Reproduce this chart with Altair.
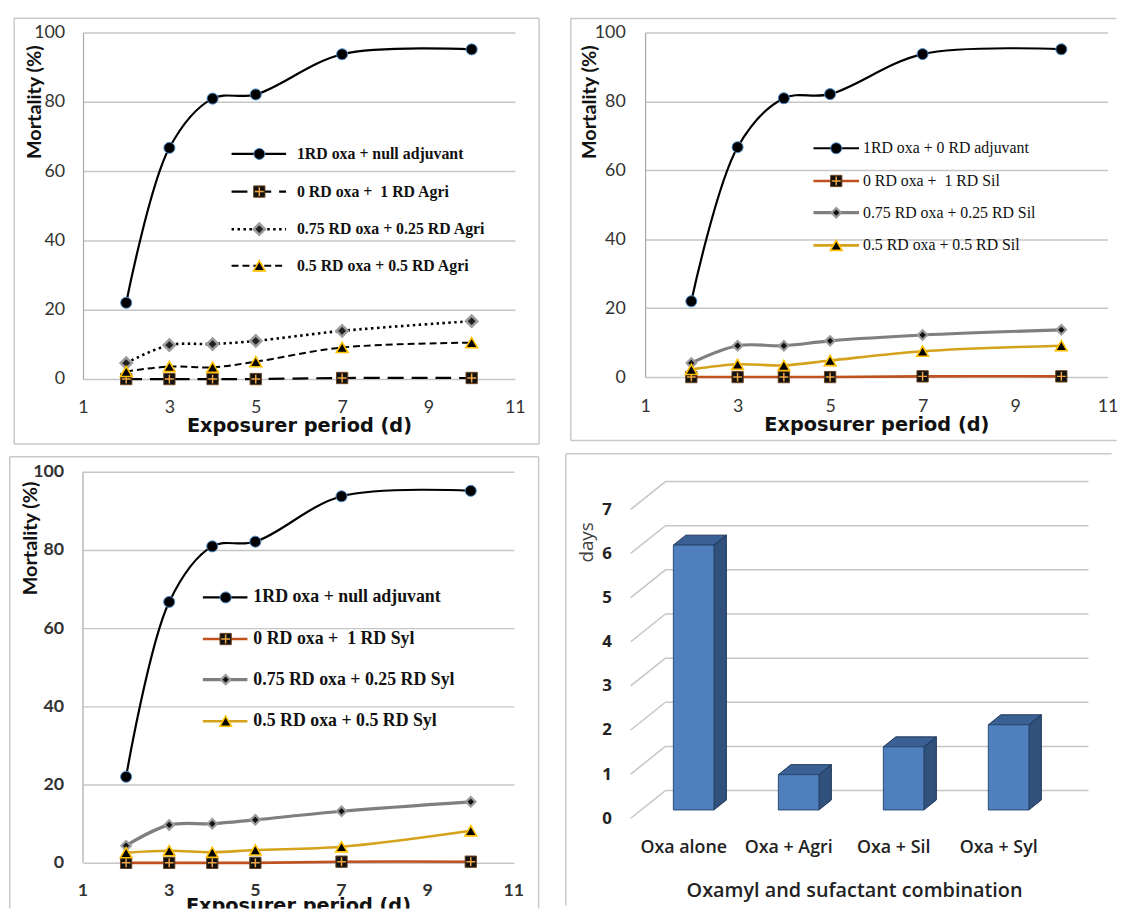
import json
import altair as alt
import pandas as pd

# ---------------- data ----------------
days = [2, 3, 4, 5, 7, 10]
x_ticks = [1, 3, 5, 7, 9, 11]
y_ticks = [0, 20, 40, 60, 80, 100]

null_adj = [22.0, 66.7, 80.9, 82.1, 93.7, 95.1]

agri_names = ["1RD oxa + null adjuvant", "0 RD oxa +\u00a0 1 RD Agri",
              "0.75 RD oxa + 0.25 RD Agri", "0.5 RD oxa + 0.5 RD Agri"]
agri_zero = [0.0, 0.0, 0.0, 0.0, 0.3, 0.3]
agri_75 = [4.6, 9.8, 10.1, 11.0, 13.9, 16.7]
agri_50 = [2.2, 3.6, 3.4, 5.0, 9.1, 10.5]

sil_names = ["1RD oxa + 0 RD adjuvant", "0 RD oxa +\u00a0 1 RD Sil",
             "0.75 RD oxa + 0.25 RD Sil", "0.5 RD oxa + 0.5 RD Sil"]
sil_zero = [0.0, 0.0, 0.0, 0.0, 0.2, 0.2]
sil_75 = [4.1, 9.1, 9.1, 10.5, 12.2, 13.7]
sil_50 = [2.2, 3.7, 3.4, 4.8, 7.5, 9.1]

syl_names = ["1RD oxa + null adjuvant", "0 RD oxa +\u00a0 1 RD Syl",
             "0.75 RD oxa + 0.25 RD Syl", "0.5 RD oxa + 0.5 RD Syl"]
syl_zero = [0.0, 0.0, 0.0, 0.0, 0.3, 0.3]
syl_75 = [4.4, 9.7, 10.0, 11.0, 13.2, 15.6]
syl_50 = [2.6, 3.1, 2.7, 3.3, 4.1, 8.2]

combos = ["Oxa alone", "Oxa + Agri", "Oxa + Sil", "Oxa + Syl"]
lt_days = [6.0, 0.8, 1.43, 1.93]
day_ticks = [0, 1, 2, 3, 4, 5, 6, 7]

# ---------------- styles ----------------
FONT = "Lato"
TFONT = "DejaVu Sans"
BFONT = "Open Sans"
SERIF = "Liberation Serif"
GRID = "#c6c6c6"
BORDER = "#c9c9c9"
CROSS_PATH = "M -0.78 0 L 0.78 0 M 0 -0.78 L 0 0.78"
one = pd.DataFrame({"k": [0]})

CIRCLE = dict(shape="circle", size=125, fill="#000000", stroke="#4f8fd0", sw=1)
SQUARE = dict(shape="square", size=130, fill="#111111", stroke="#6b4520", sw=1, cross=True)
TRI = dict(shape="triangle-up", size=140, fill="#000000", stroke="#ffc000", sw=1.6)

st_a = [
    dict(color="#000000", width=2.2, **CIRCLE),
    dict(color="#000000", width=2.2, dash=[16, 8], **SQUARE),
    dict(color="#000000", width=2.6, dash=[2.5, 3.5], shape="diamond", size=130,
         fill="#222222", stroke="#9c9c9c", sw=2.5),
    dict(color="#000000", width=2.0, dash=[7, 4], **TRI),
]
st_b = [
    dict(color="#000000", width=2.2, **CIRCLE),
    dict(color="#c0501e", width=2.6, **SQUARE),
    dict(color="#7f7f7f", width=3.2, shape="diamond", size=90,
         fill="#111111", stroke="#9a9a9a", sw=2.2),
    dict(color="#d4a21b", width=2.6, **TRI),
]


def line_kw(st):
    kw = dict(color=st["color"], strokeWidth=st["width"])
    if st.get("dash"):
        kw["strokeDash"] = st["dash"]
    return kw


def pt_kw(st):
    return dict(shape=st["shape"], size=st["size"], filled=True, fill=st["fill"],
                stroke=st["stroke"], strokeWidth=st["sw"], opacity=1)


def cross_kw(st):
    return dict(shape=CROSS_PATH, size=st["size"], filled=False, stroke="#f2a541",
                strokeWidth=1.5, opacity=1)


def border(sides):
    out = []
    for x1, y1, x2, y2 in sides:
        enc = dict(x=alt.value(x1), y=alt.value(y1))
        if x2 != x1:
            enc["x2"] = alt.value(x2)
        if y2 != y1:
            enc["y2"] = alt.value(y2)
        out.append(alt.Chart(one).mark_rule(color=BORDER, strokeWidth=1.5).encode(**enc))
    return out


def line_panel(series, names, styles, g):
    X = alt.X("day:Q", scale=alt.Scale(domain=[1, 11], nice=False, zero=False), axis=g["xaxis"])
    Y = alt.Y("val:Q", scale=alt.Scale(domain=g["ydom"], nice=False, zero=False), axis=g["yaxis"])
    layers = border(g["border"])
    for ch in g.get("pre", []):
        layers.append(ch(X, Y))
    for vals, st in zip(series, styles):
        df = pd.DataFrame({"day": days, "val": vals})
        layers.append(alt.Chart(df).mark_line(interpolate="catmull-rom", **line_kw(st)).encode(x=X, y=Y))
    for vals, st in zip(series, styles):
        df = pd.DataFrame({"day": days, "val": vals})
        layers.append(alt.Chart(df).mark_point(**pt_kw(st)).encode(x=X, y=Y))
        if st.get("cross"):
            layers.append(alt.Chart(df).mark_point(**cross_kw(st)).encode(x=X, y=Y))
    lx1, lx2, lxm, ltx = g["leg_x"]
    for k, (name, st) in enumerate(zip(names, styles)):
        yk = g["leg_y"][k]
        nd = pd.DataFrame({"name": [name]})
        layers.append(alt.Chart(nd).mark_rule(**line_kw(st)).encode(
            x=alt.value(lx1), x2=alt.value(lx2), y=alt.value(yk)))
        layers.append(alt.Chart(nd).mark_point(**pt_kw(st)).encode(x=alt.value(lxm), y=alt.value(yk)))
        if st.get("cross"):
            layers.append(alt.Chart(nd).mark_point(**cross_kw(st)).encode(x=alt.value(lxm), y=alt.value(yk)))
        layers.append(alt.Chart(nd).mark_text(
            align="left", baseline="middle", font=SERIF, fontSize=g["leg_fs"],
            fontWeight=g["leg_fw"], color="#111111").encode(
            x=alt.value(ltx), y=alt.value(yk), text="name:N"))
    for ch in g.get("post", []):
        layers.append(ch(X, Y))
    return alt.layer(*layers).properties(width=g["W"], height=g["H"])


def x_axis(pad, tx, ty, bold=False):
    return alt.Axis(values=x_ticks, grid=False, domain=False, ticks=False, labelFlush=False,
                    labelPadding=pad, labelFont=FONT, labelFontSize=18,
                    labelFontWeight="bold" if bold else "normal", labelColor="#333333",
                    title="Exposurer period (d)", titleFont=TFONT, titleFontSize=19.5,
                    titleFontWeight="bold", titleColor="#111111", titleX=tx, titleY=ty,
                    titleAlign="center", titleBaseline="middle")


def y_axis(pad, tx, ty, bold=False, domain=True):
    return alt.Axis(values=y_ticks, grid=True, gridColor=GRID, gridWidth=1.5,
                    domain=domain, domainColor="#a8a8a8", domainWidth=1.2, ticks=False,
                    labelPadding=pad, labelFont=FONT, labelFontSize=18,
                    labelFontWeight="bold" if bold else "normal", labelColor="#333333",
                    title="Mortality (%)", titleFont=FONT, titleFontSize=20,
                    titleFontWeight="bold", titleColor="#111111", titleX=tx, titleY=ty,
                    titleAlign="center", titleBaseline="middle")


# ---------------- panel A ----------------
gA = dict(W=436, H=350, ydom=[0, 100],
          border=[(-69.5, -14.3, 460.5, -14.3), (-69.5, 415.7, 460.5, 415.7),
                  (-69.5, -14.3, -69.5, 415.7), (460.5, -14.3, 460.5, 415.7)],
          xaxis=x_axis(19.5, 218, 46.5), yaxis=y_axis(18.5, -49, 70),
          leg_x=(150, 205, 178, 216), leg_y=[122.7, 160.7, 198.7, 235.7],
          leg_fs=16, leg_fw="bold")
pA = line_panel([null_adj, agri_zero, agri_75, agri_50], agri_names, st_a, gA)

# ---------------- panel B ----------------
gB = dict(W=467, H=348, ydom=[0, 100],
          border=[(-75, -14, 476, -14), (-75, 412, 476, 412), (-75, -14, -75, 412)],
          xaxis=x_axis(20.3, 233.5, 47.5), yaxis=y_axis(20, -56, 70),
          leg_x=(170, 216, 193, 220), leg_y=[117, 150, 182, 215],
          leg_fs=16, leg_fw="normal")
pB = line_panel([null_adj, sil_zero, sil_75, sil_50], sil_names, st_b, gB)

# ---------------- panel C ----------------
C_W, C_H = 435, 441
xlab_df = pd.DataFrame({"day": x_ticks, "lab": [str(t) for t in x_ticks]})
title_df = pd.DataFrame({"t": ["Exposurer period (d)"]})

gC = dict(W=C_W, H=C_H, ydom=[0 - (C_H - 395) / 3.95, 100],
          border=[(-74, -15, 460, -15), (-74, -15, -74, C_H), (460, -15, 460, C_H)],
          xaxis=None, yaxis=y_axis(19.5, -53, 67, bold=True, domain=False),
          leg_x=(121, 166, 144, 172), leg_y=[127, 169, 210, 252],
          leg_fs=18, leg_fw="bold",
          pre=[lambda X, Y: alt.Chart(one).mark_rule(color="#a8a8a8", strokeWidth=1.2).encode(
              x=alt.value(0), y=alt.value(0), y2=alt.value(395))],
          post=[lambda X, Y: alt.Chart(xlab_df).mark_text(
              font=FONT, fontSize=18, fontWeight="bold", baseline="middle", color="#333333").encode(
              x=X, y=alt.value(423), text="lab:N"),
              lambda X, Y: alt.Chart(title_df).mark_text(
              clip=True, font=TFONT, fontSize=19.5, fontWeight="bold", baseline="alphabetic",
              align="center", color="#111111").encode(
              x=alt.value(C_W / 2), y=alt.value(445), text="t:N")])
pC = line_panel([null_adj, syl_zero, syl_75, syl_50], syl_names, st_b, gC)

# ---------------- panel D: pseudo-3D column chart ----------------
DX, DV = 0.330, 0.628   # floor depth (category units, day units)
D1, D2 = 0.30, 0.66     # front/back depth of the columns
HW = 0.193              # half column width

grid_rows = []
for t in day_ticks:
    grid_rows.append(dict(i=-0.5, v=t, i2=-0.5 + DX, v2=t + DV))
    grid_rows.append(dict(i=-0.5 + DX, v=t + DV, i2=3.86, v2=t + DV))
grid_df = pd.DataFrame(grid_rows)

front_df = pd.DataFrame({
    "bar": combos,
    "i": [k - HW + D1 * DX for k in range(len(combos))],
    "i2": [k + HW + D1 * DX for k in range(len(combos))],
    "v": [D1 * DV] * len(combos),
    "v2": [val + D1 * DV for val in lt_days],
})
side_rows, top_rows = [], []
for k, (name, val) in enumerate(zip(combos, lt_days)):
    for d in (D1, D2):
        side_rows.append(dict(bar=name, i=k + HW + d * DX, v=d * DV, v2=val + d * DV))
        top_rows.append(dict(bar=name, v=val + d * DV, i=k - HW + d * DX, i2=k + HW + d * DX))
side_df = pd.DataFrame(side_rows)
top_df = pd.DataFrame(top_rows)

XD = alt.X("i:Q", scale=alt.Scale(domain=[-0.637, 3.891], nice=False, zero=False),
           axis=alt.Axis(values=[0, 1, 2, 3], labelExpr=json.dumps(combos) + "[datum.value]",
                         grid=False, domain=False, ticks=False, labelFlush=False,
                         labelPadding=14.5, labelFont=BFONT, labelFontSize=18, labelFontWeight=600,
                         labelColor="#222222", title="Oxamyl and sufactant combination",
                         titleFont=BFONT, titleFontSize=20, titleFontWeight=600, titleColor="#222222",
                         titleX=240, titleY=67, titleAlign="center", titleBaseline="middle"))
YD = alt.Y("v:Q", scale=alt.Scale(domain=[-0.135, 7.853], nice=False, zero=False),
           axis=alt.Axis(values=day_ticks, grid=False, domain=False, ticks=False,
                         labelPadding=5, labelFont=BFONT, labelFontSize=17, labelFontWeight="bold",
                         labelColor="#222222", title="days", titleFont=BFONT, titleFontSize=19,
                         titleFontWeight="normal", titleColor="#404040", titleX=-30, titleY=71,
                         titleAlign="center", titleBaseline="middle"))

d_layers = border([(-51, -18, 500, -18), (-51, -18, -51, 438)])
d_layers.append(alt.Chart(grid_df).mark_rule(color=GRID, strokeWidth=1.5).encode(
    x=XD, y=YD, x2="i2:Q", y2="v2:Q"))
d_layers.append(alt.Chart(side_df).mark_area(orient="vertical", color="#30517c", stroke="#1c3557",
                                             strokeWidth=1, opacity=1).encode(
    x=XD, y=YD, y2="v2:Q", detail="bar:N"))
d_layers.append(alt.Chart(top_df).mark_area(orient="horizontal", color="#3b6093", stroke="#1c3557",
                                            strokeWidth=1, opacity=1).encode(
    y=YD, x=XD, x2="i2:Q", detail="bar:N"))
d_layers.append(alt.Chart(front_df).mark_rect(color="#4f80bd", stroke="#2a4a73", strokeWidth=1).encode(
    x=XD, x2="i2:Q", y=YD, y2="v2:Q"))
pD = alt.layer(*d_layers).properties(width=480, height=356)

# ---------------- layout ----------------
row1 = alt.hconcat(pA, pB, spacing=29.5)
row2 = alt.hconcat(pC, pD, spacing=25.5)
chart = alt.vconcat(row1, row2, spacing=7.5).properties(
    padding={"left": 0.75, "top": 4.25, "right": 0, "bottom": 0},
    background="white",
).configure_view(stroke=None)

chart.save("out.html", embed_options={"renderer": "svg", "actions": False})
